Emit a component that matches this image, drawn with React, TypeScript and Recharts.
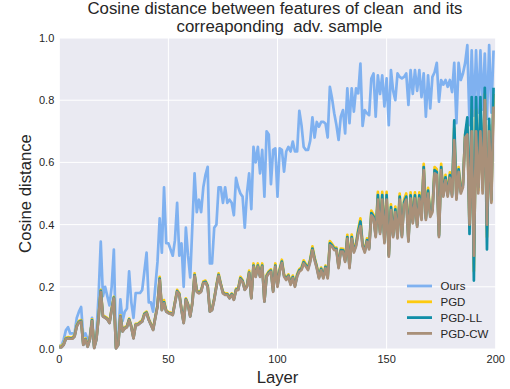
import React from 'react';
import { LineChart, Line, XAxis, YAxis, CartesianGrid, Legend } from 'recharts';

const ours = [
  0.01, 0.01, 0.03, 0.06, 0.07, 0.05, 0.05, 0.05, 0.10, 0.12,
  0.135, 0.04, 0.05, 0.03, 0.04, 0.10, 0.01, 0.05, 0.17, 0.345,
  0.17, 0.2, 0.17, 0.14, 0.2, 0.32, 0.01, 0.03, 0.16, 0.09,
  0.12, 0.13, 0.25, 0.15, 0.10, 0.18, 0.18, 0.18, 0.19, 0.25,
  0.31, 0.15, 0.15, 0.12, 0.2, 0.28, 0.42, 0.31, 0.52, 0.34,
  0.34, 0.32, 0.30, 0.35, 0.47, 0.30, 0.34, 0.20, 0.39, 0.30,
  0.23, 0.40, 0.565, 0.44, 0.48, 0.44, 0.52, 0.56, 0.586, 0.275,
  0.275, 0.39, 0.40, 0.52, 0.52, 0.47, 0.52, 0.47, 0.48, 0.47,
  0.43, 0.55, 0.52, 0.50, 0.49, 0.39, 0.50, 0.565, 0.45, 0.65,
  0.60, 0.65, 0.565, 0.64, 0.49, 0.70, 0.69, 0.53, 0.64, 0.645,
  0.49, 0.645, 0.64, 0.57, 0.635, 0.65, 0.635, 0.667, 0.635, 0.635,
  0.766, 0.72, 0.65, 0.64, 0.64, 0.67, 0.745, 0.68, 0.73, 0.715,
  0.73, 0.73, 0.725, 0.68, 0.843, 0.806, 0.758, 0.72, 0.672, 0.747,
  0.768, 0.693, 0.838, 0.726, 0.838, 0.763, 0.838, 0.822, 0.918, 0.717,
  0.768, 0.758, 0.752, 0.87, 0.886, 0.747, 0.88, 0.82, 0.88, 0.78,
  0.87, 0.72, 0.897, 0.83, 0.80, 0.886, 0.875, 0.87, 0.875, 0.886,
  0.785, 0.897, 0.82, 0.897, 0.83, 0.897, 0.81, 0.886, 0.747, 0.88,
  0.774, 0.875, 0.89, 0.92, 0.795, 0.865, 0.85, 0.865, 0.843, 0.865,
  0.826, 0.92, 0.726, 0.92, 0.865, 0.886, 0.92, 0.977, 0.72, 0.96,
  0.75, 0.96, 0.76, 0.96, 0.77, 0.95, 0.74, 0.977, 0.76, 0.96,
];

const pgd = [
  0.009, 0.009, 0.017, 0.036, 0.038, 0.037, 0.037, 0.044, 0.077, 0.09,
  0.093, 0.017, 0.034, 0.011, 0.034, 0.095, 0.007, 0.034, 0.105, 0.19,
  0.108, 0.104, 0.099, 0.087, 0.13, 0.168, 0.006, 0.016, 0.108, 0.06,
  0.07, 0.074, 0.098, 0.074, 0.038, 0.081, 0.081, 0.087, 0.092, 0.115,
  0.12, 0.097, 0.081, 0.065, 0.104, 0.141, 0.232, 0.129, 0.157, 0.124,
  0.119, 0.117, 0.113, 0.152, 0.19, 0.179, 0.129, 0.087, 0.163, 0.145,
  0.108, 0.152, 0.243, 0.189, 0.184, 0.189, 0.217, 0.22, 0.205, 0.124,
  0.129, 0.163, 0.206, 0.243, 0.211, 0.184, 0.178, 0.179, 0.167, 0.179,
  0.162, 0.194, 0.195, 0.232, 0.222, 0.194, 0.205, 0.252, 0.167, 0.275,
  0.237, 0.275, 0.237, 0.275, 0.156, 0.238, 0.25, 0.256, 0.189, 0.275,
  0.206, 0.258, 0.287, 0.24, 0.229, 0.24, 0.212, 0.236, 0.206, 0.241,
  0.257, 0.262, 0.285, 0.273, 0.262, 0.29, 0.33, 0.294, 0.267, 0.233,
  0.262, 0.233, 0.268, 0.233, 0.347, 0.338, 0.327, 0.326, 0.266, 0.323,
  0.322, 0.287, 0.367, 0.267, 0.368, 0.318, 0.34, 0.385, 0.42, 0.338,
  0.318, 0.356, 0.328, 0.445, 0.432, 0.368, 0.505, 0.38, 0.505, 0.348,
  0.505, 0.305, 0.465, 0.368, 0.458, 0.364, 0.5, 0.368, 0.48, 0.5,
  0.353, 0.504, 0.414, 0.504, 0.402, 0.504, 0.425, 0.595, 0.425, 0.518,
  0.435, 0.452, 0.585, 0.578, 0.368, 0.595, 0.5, 0.56, 0.5, 0.568,
  0.5, 0.71, 0.49, 0.585, 0.51, 0.535, 0.69, 0.72, 0.39, 0.77,
  0.25, 0.77, 0.51, 0.77, 0.51, 0.82, 0.36, 0.72, 0.475, 0.82,
];

const pgdLL = [
  0.006, 0.006, 0.014, 0.033, 0.035, 0.034, 0.034, 0.041, 0.074, 0.087,
  0.09, 0.014, 0.031, 0.008, 0.031, 0.092, 0.004, 0.031, 0.102, 0.187,
  0.105, 0.101, 0.096, 0.084, 0.127, 0.165, 0.003, 0.013, 0.105, 0.057,
  0.067, 0.071, 0.095, 0.071, 0.035, 0.078, 0.078, 0.084, 0.089, 0.112,
  0.117, 0.094, 0.078, 0.062, 0.101, 0.138, 0.226, 0.126, 0.15, 0.121,
  0.116, 0.114, 0.11, 0.149, 0.186, 0.176, 0.126, 0.084, 0.16, 0.142,
  0.105, 0.149, 0.238, 0.186, 0.181, 0.186, 0.213, 0.216, 0.202, 0.121,
  0.126, 0.16, 0.202, 0.238, 0.208, 0.181, 0.175, 0.176, 0.164, 0.176,
  0.159, 0.19, 0.192, 0.227, 0.218, 0.191, 0.202, 0.246, 0.164, 0.268,
  0.234, 0.268, 0.234, 0.268, 0.153, 0.234, 0.246, 0.252, 0.186, 0.268,
  0.203, 0.254, 0.281, 0.236, 0.225, 0.236, 0.209, 0.231, 0.203, 0.236,
  0.253, 0.258, 0.279, 0.269, 0.258, 0.285, 0.323, 0.29, 0.263, 0.23,
  0.258, 0.23, 0.264, 0.23, 0.34, 0.333, 0.322, 0.322, 0.263, 0.318,
  0.317, 0.283, 0.36, 0.263, 0.36, 0.314, 0.335, 0.378, 0.41, 0.334,
  0.314, 0.35, 0.324, 0.437, 0.426, 0.364, 0.495, 0.375, 0.495, 0.344,
  0.495, 0.301, 0.456, 0.364, 0.449, 0.36, 0.49, 0.364, 0.471, 0.49,
  0.349, 0.494, 0.409, 0.494, 0.397, 0.494, 0.42, 0.585, 0.42, 0.509,
  0.43, 0.446, 0.575, 0.569, 0.364, 0.585, 0.495, 0.552, 0.495, 0.559,
  0.495, 0.735, 0.485, 0.578, 0.505, 0.528, 0.69, 0.745, 0.37, 0.81,
  0.22, 0.81, 0.52, 0.81, 0.52, 0.84, 0.32, 0.74, 0.48, 0.84,
];

const pgdCW = [
  0.005, 0.005, 0.013, 0.032, 0.034, 0.033, 0.033, 0.04, 0.072, 0.085,
  0.088, 0.013, 0.03, 0.007, 0.03, 0.09, 0.003, 0.03, 0.1, 0.184,
  0.104, 0.1, 0.095, 0.083, 0.125, 0.163, 0.002, 0.012, 0.104, 0.056,
  0.066, 0.07, 0.093, 0.07, 0.034, 0.077, 0.077, 0.083, 0.088, 0.11,
  0.115, 0.093, 0.077, 0.061, 0.1, 0.136, 0.222, 0.125, 0.147, 0.12,
  0.115, 0.113, 0.109, 0.147, 0.184, 0.174, 0.125, 0.083, 0.158, 0.141,
  0.104, 0.147, 0.235, 0.184, 0.179, 0.184, 0.211, 0.213, 0.2, 0.12,
  0.125, 0.158, 0.2, 0.235, 0.206, 0.179, 0.174, 0.174, 0.163, 0.174,
  0.158, 0.188, 0.19, 0.224, 0.216, 0.19, 0.2, 0.243, 0.163, 0.265,
  0.232, 0.265, 0.232, 0.265, 0.152, 0.232, 0.243, 0.249, 0.184, 0.265,
  0.2, 0.25, 0.277, 0.233, 0.222, 0.233, 0.206, 0.228, 0.2, 0.233,
  0.249, 0.254, 0.275, 0.265, 0.254, 0.28, 0.318, 0.286, 0.26, 0.227,
  0.254, 0.227, 0.26, 0.227, 0.334, 0.329, 0.318, 0.318, 0.26, 0.313,
  0.313, 0.28, 0.355, 0.26, 0.355, 0.31, 0.33, 0.37, 0.395, 0.33,
  0.31, 0.345, 0.32, 0.43, 0.42, 0.36, 0.48, 0.37, 0.48, 0.34,
  0.48, 0.297, 0.447, 0.36, 0.44, 0.356, 0.48, 0.36, 0.463, 0.48,
  0.345, 0.484, 0.404, 0.484, 0.393, 0.484, 0.415, 0.575, 0.415, 0.5,
  0.425, 0.44, 0.565, 0.56, 0.36, 0.575, 0.49, 0.543, 0.49, 0.55,
  0.49, 0.672, 0.48, 0.57, 0.5, 0.52, 0.68, 0.69, 0.40, 0.70,
  0.30, 0.70, 0.50, 0.70, 0.50, 0.80, 0.40, 0.70, 0.47, 0.78,
];

const xTicks = [0, 50, 100, 150, 200];
const yTicks = [0, 0.2, 0.4, 0.6, 0.8, 1.0];
const seriesKeys = ['ours', 'pgd', 'pgdLL', 'pgdCW'];
const seriesNames = ['Ours', 'PGD', 'PGD-LL', 'PGD-CW'];
const seriesColors = ['#7fb1f0', '#fdca10', '#118ea7', '#a99079'];

const titleLine1 = 'Cosine distance between features of clean  and its';
const titleLine2 = 'correaponding  adv. sample';
const xLabel = 'Layer';
const yLabel = 'Cosine distance';

const FONT = '"Liberation Sans", Arial, sans-serif';
const TEXT = '#262626';

const data = ours.map((v, i) => ({
  layer: i,
  ours: v,
  pgd: pgd[i],
  pgdLL: pgdLL[i],
  pgdCW: pgdCW[i],
}));

const renderLegend = () => (
  <svg width={100} height={70} style={{ display: 'block' }}>
    {seriesNames.map((name, i) => (
      <g key={name}>
        <line
          x1={6}
          x2={31}
          y1={10 + i * 15.8}
          y2={10 + i * 15.8}
          stroke={seriesColors[i]}
          strokeWidth={2.8}
        />
        <text
          x={39.5}
          y={10 + i * 15.8}
          dy="0.36em"
          fontSize={11.5}
          fill={TEXT}
          fontFamily={FONT}
        >
          {name}
        </text>
      </g>
    ))}
  </svg>
);

export default function App() {
  return (
    <div style={{ position: 'absolute', left: 0, top: 0, width: 510, height: 389, background: '#fff' }}>
      <LineChart
        width={510}
        height={389}
        data={data}
        margin={{ top: 38, right: 14.3, bottom: 0, left: 0 }}
      >
        <CartesianGrid fill="#eaeaf2" stroke="#ffffff" strokeWidth={1} />
        <XAxis
          dataKey="layer"
          type="number"
          domain={[0, 200]}
          ticks={xTicks}
          interval={0}
          height={40}
          tickLine={false}
          axisLine={false}
          tickSize={0}
          tickMargin={6.5}
          tick={{ fontSize: 11, fill: TEXT, fontFamily: FONT }}
        />
        <YAxis
          type="number"
          domain={[0, 1]}
          ticks={yTicks}
          interval={0}
          width={59.3}
          tickLine={false}
          axisLine={false}
          tickSize={0}
          tickMargin={5}
          tickFormatter={(v: number) => v.toFixed(1)}
          tick={{ fontSize: 11, fill: TEXT, fontFamily: FONT }}
        />
        {seriesKeys.map((k, i) => (
          <Line
            key={k}
            type="linear"
            dataKey={k}
            name={seriesNames[i]}
            stroke={seriesColors[i]}
            strokeWidth={2.7}
            strokeLinejoin="round"
            dot={false}
            activeDot={false}
            isAnimationActive={false}
          />
        ))}
        <Legend
          layout="vertical"
          align="center"
          verticalAlign="middle"
          content={renderLegend}
          wrapperStyle={{ position: 'absolute', left: 400.7, top: 276, width: 100, height: 70 }}
        />
      </LineChart>
      <svg
        width={510}
        height={389}
        style={{ position: 'absolute', left: 0, top: 0, pointerEvents: 'none' }}
      >
        <text x={275} y={13.6} textAnchor="middle" fontSize={16.8} fill={TEXT} fontFamily={FONT} style={{ whiteSpace: 'pre' }}>
          {titleLine1}
        </text>
        <text x={279.5} y={32.4} textAnchor="middle" fontSize={16.8} fill={TEXT} fontFamily={FONT} style={{ whiteSpace: 'pre' }}>
          {titleLine2}
        </text>
        <text x={277.5} y={383} textAnchor="middle" fontSize={16.7} fill={TEXT} fontFamily={FONT}>
          {xLabel}
        </text>
        <text
          x={0}
          y={0}
          transform="translate(31,193.5) rotate(-90)"
          textAnchor="middle"
          fontSize={16.7}
          fill={TEXT}
          fontFamily={FONT}
        >
          {yLabel}
        </text>
      </svg>
    </div>
  );
}
